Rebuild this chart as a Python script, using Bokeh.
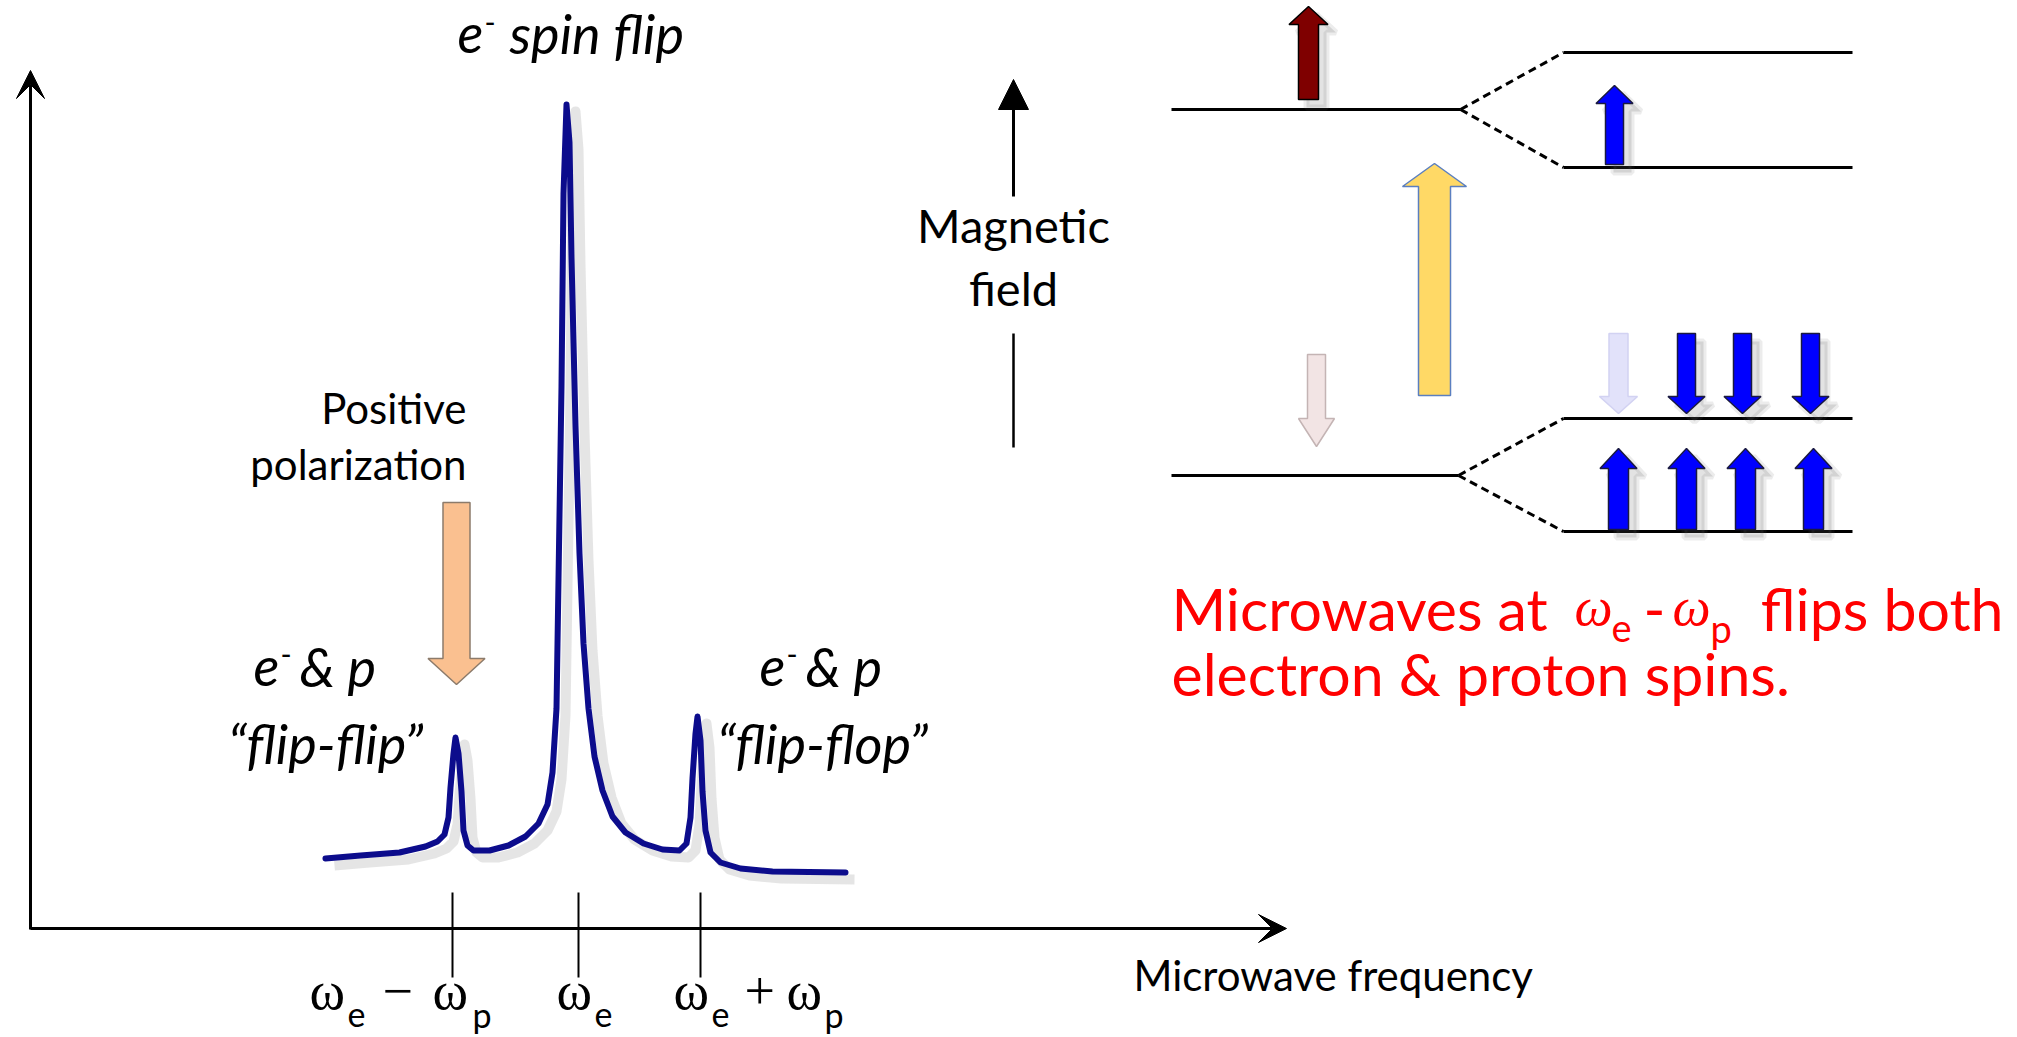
from bokeh.plotting import figure
from bokeh.models import Range1d, Arrow, VeeHead, NormalHead
from bokeh.core.properties import value
from bokeh.embed import file_html
from bokeh.resources import INLINE

W, H = 2017, 1037

# ---------------- data (schematic) ----------------
# spectrum trace: frequency position (px) and signal (px from top)
spec_freq = [325, 360, 399, 425, 437, 444, 448, 450, 453, 455, 458, 461, 463, 467, 473,
             489, 508, 525, 538, 547, 552, 556, 558, 561, 563, 566, 569, 571, 575, 579,
             583, 588, 594, 602, 612, 625, 643, 662, 679, 686, 690, 692, 695, 697, 700,
             702, 705, 710, 720, 740, 772, 845]
spec_sig = [858, 855, 852, 846, 841, 834, 817, 787, 753, 737, 753, 791, 830, 845, 850,
            850, 845, 836, 823, 804, 772, 708, 579, 386, 193, 104, 142, 257, 425, 553,
            643, 708, 756, 790, 816, 832, 843, 849, 850, 843, 817, 778, 733, 716, 740,
            791, 830, 852, 862, 868, 871, 872]

# frequency tick positions and their labels
tick_pos = [452, 578, 700]
tick_labels = ["ωe − ωp", "ωe", "ωe + ωp"]

# energy levels: (x0, x1, y)
level_left = [(1171, 1460, 109), (1171, 1458, 475)]
level_split = [(1563, 1852, 52), (1563, 1852, 167), (1563, 1852, 418), (1563, 1852, 531)]

# block arrows: centre x, tail y, head-base y, tip y, shaft width, head width, fill, outline, shadow
arrow_specs = [
    (456, 502, 658, 684, 27, 57, "#FAC090", "#8C7B6B", False),   # positive polarization
    (1308, 99, 24, 6, 20, 39, "#7F0000", "#000000", True),      # electron up
    (1614, 164, 103, 85, 18, 37, "#0000FF", "#1a1a40", True),   # proton up (top)
    (1434, 395, 186, 163, 32, 64, "#FFD966", "#5B7FC0", False),  # microwave excitation
    (1316, 354, 418, 446, 18, 36, "#F2E4E4", "#C4B4B4", False),  # faded electron down
    (1618, 333, 396, 413, 19, 38, "#E2E2FA", "#D2D2F2", False),  # faded proton down
    (1686, 333, 396, 413, 18, 37, "#0000FF", "#1a1a40", True),
    (1742, 333, 396, 413, 18, 37, "#0000FF", "#1a1a40", True),
    (1810, 333, 396, 413, 18, 37, "#0000FF", "#1a1a40", True),
    (1618, 529, 468, 448, 20, 37, "#0000FF", "#1a1a40", True),
    (1686, 529, 468, 448, 20, 37, "#0000FF", "#1a1a40", True),
    (1745, 529, 468, 448, 20, 37, "#0000FF", "#1a1a40", True),
    (1813, 529, 468, 448, 20, 37, "#0000FF", "#1a1a40", True),
]


def block_arrow(cx, yt, yb, ytip, sw, hw):
    xs = [cx - sw / 2, cx - sw / 2, cx - hw / 2, cx, cx + hw / 2, cx + sw / 2, cx + sw / 2]
    ys = [yt, yb, yb, ytip, yb, yb, yt]
    return xs, ys


p = figure(width=W, height=H, x_range=Range1d(0, W), y_range=Range1d(H, 0),
           output_backend="svg", toolbar_location=None, min_border=0,
           background_fill_color="white", border_fill_color="white")
p.axis.visible = False
p.grid.visible = False
p.outline_line_color = None

SANS = value("Lato")
SERIF = value("Liberation Serif")


def put(x, y, txt, size, font=SANS, style="normal", align="left", color="black"):
    k = 0.38 if font == SERIF else 0.32   # compensate renderer baseline offset
    p.text(x=[x], y=[y - k * size], text=[txt], text_font=font, text_font_size=f"{size}px",
           text_font_style=style, text_baseline="alphabetic", text_align=align,
           text_color=color)


# ---------------- axes ----------------
p.add_layout(Arrow(end=VeeHead(size=28, fill_color="black", line_color="black"),
                   x_start=30, y_start=928, x_end=1286, y_end=928, line_width=3, line_color="black"))
p.add_layout(Arrow(end=VeeHead(size=28, fill_color="black", line_color="black"),
                   x_start=30, y_start=929, x_end=30, y_end=70, line_width=3, line_color="black"))
p.segment(x0=tick_pos, y0=[892] * 3, x1=tick_pos, y1=[977] * 3, line_color="black", line_width=2)

# tick labels composed of omega (serif) and subscripts (sans)
omega_pieces = [
    [("ω", 309, "w"), ("e", 347, "s"), ("−", 382, "w"), ("ω", 432, "w"), ("p", 472, "s")],
    [("ω", 556, "w"), ("e", 594, "s")],
    [("ω", 673, "w"), ("e", 711, "s"), ("+", 744, "w"), ("ω", 786, "w"), ("p", 824, "s")],
]
for pieces in omega_pieces:
    for txt, x, kind in pieces:
        if kind == "w":
            put(x, 1011, txt, 54, font=SERIF)
        else:
            put(x, 1025, txt, 34)

put(1133, 988, "Microwave frequency", 42)

# ---------------- spectrum ----------------
p.line([x + 9 for x in spec_freq], [y + 7 for y in spec_sig], line_color="#888888",
       line_width=10, line_alpha=0.22, line_join="round")
p.line(spec_freq, spec_sig, line_color="#0C0C8C", line_width=6, line_join="round", line_cap="round")

# ---------------- level diagram ----------------
for x0, x1, y in level_left + level_split:
    p.segment(x0=[x0], y0=[y], x1=[x1], y1=[y], line_color="black", line_width=3)
for (x0, x1, y) in level_left:
    ups = [yy for (_, _, yy) in level_split if abs(yy - y) < 130]
    for yy in ups:
        p.segment(x0=[x1], y0=[y], x1=[1563], y1=[yy], line_color="black", line_width=3,
                  line_dash="8 5")

# block arrows with soft shadows
for cx, yt, yb, ytip, sw, hw, fill, outline, shadow in arrow_specs:
    xs, ys = block_arrow(cx, yt, yb, ytip, sw, hw)
    if shadow:
        p.patch([x + 8 for x in xs], [y + 8 for y in ys], fill_color="#666666", fill_alpha=0.18,
                line_color="#666666", line_alpha=0.12, line_width=6)
    p.patch(xs, ys, fill_color=fill, line_color=outline, line_width=1.5)

# magnetic field arrow
p.add_layout(Arrow(end=NormalHead(size=30, fill_color="black", line_color="black"),
                   x_start=1013, y_start=196, x_end=1013, y_end=79, line_width=3, line_color="black"))
p.segment(x0=[1013], y0=[333], x1=[1013], y1=[447], line_color="black", line_width=2.5)
put(1013, 240, "Magnetic", 47, align="center")
put(1013, 303, "field", 47, align="center")

# ---------------- annotations ----------------
put(466, 421, "Positive", 42, align="right")
put(466, 477, "polarization", 42, align="right")

# e- spin flip
put(457, 50, "e", 54, style="italic")
put(484, 31, "-", 30)
put(509, 50, "spin flip", 54, style="italic")

# e- & p labels
for ex, cxq, quote in [(253, 325, "“flip-flip”"), (759, 822, "“flip-flop”")]:
    put(ex, 683, "e", 54, style="italic")
    put(ex + 27, 663, "-", 30)
    put(ex + 46, 683, "& p", 54, style="italic")
    put(cxq, 760, quote, 54, style="italic", align="center")

# red explanation
RED = "#FF0000"
put(1171, 627, "Microwaves at", 59, color=RED)
put(1574, 627, "ω", 54, font=SERIF, style="italic", color=RED)
put(1611, 640, "e", 38, color=RED)
put(1643, 627, "-", 59, color=RED)
put(1672, 627, "ω", 54, font=SERIF, style="italic", color=RED)
put(1710, 640, "p", 38, color=RED)
put(2003, 627, "flips both", 59, color=RED, align="right")
put(1171, 692, "electron & proton spins.", 59, color=RED)

open("out.html", "w").write(file_html(p, INLINE))
